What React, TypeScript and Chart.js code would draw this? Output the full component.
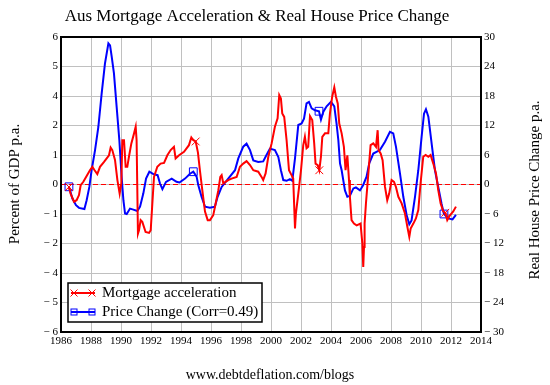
import React, { useEffect, useRef } from "react";
import { Chart, registerables } from "chart.js";

Chart.register(...registerables);

const TITLE = "Aus Mortgage Acceleration & Real House Price Change";
const CAPTION = "www.debtdeflation.com/blogs";
const LEFT_TITLE = "Percent of GDP p.a.";
const RIGHT_TITLE = "Real House Price Change p.a.";
const RED_LABEL = "Mortgage acceleration";
const BLUE_LABEL = "Price Change (Corr=0.49)";

const X_MIN = 1986;
const X_MAX = 2014;
const X_TICKS = [1986, 1988, 1990, 1992, 1994, 1996, 1998, 2000, 2002, 2004, 2006, 2008, 2010, 2012, 2014];
const LEFT_TICKS = [-6, -4.8, -3.6, -2.4, -1.2, 0, 1.2, 2.4, 3.6, 4.8, 6];
const LEFT_TICK_LABELS = ["\u2212 6", "\u2212 5", "\u2212 4", "\u2212 2", "\u2212 1", "0", "1", "2", "4", "5", "6"];
const RIGHT_TICKS = [-30, -24, -18, -12, -6, 0, 6, 12, 18, 24, 30];
const RIGHT_TICK_LABELS = ["\u2212 30", "\u2212 24", "\u2212 18", "\u2212 12", "\u2212 6", "0", "6", "12", "18", "24", "30"];

// Mortgage acceleration (left axis, % of GDP p.a.)
const RED_YEARS = [
  1986.53, 1986.64, 1986.87, 1987.04, 1987.2, 1987.31, 1987.49, 1987.71, 1987.93, 1988.09,
  1988.24, 1988.42, 1988.6, 1988.87, 1989.2, 1989.31, 1989.42, 1989.6, 1989.76, 1989.91,
  1990.02, 1990.09, 1990.2, 1990.31, 1990.42, 1990.53, 1990.69, 1990.87, 1990.98, 1991.04,
  1991.13, 1991.2, 1991.31, 1991.42, 1991.64, 1991.87, 1991.98, 1992.09, 1992.2, 1992.42,
  1992.64, 1992.87, 1993.09, 1993.31, 1993.53, 1993.64, 1993.87, 1994.2, 1994.53, 1994.69,
  1994.82, 1994.98, 1995.13, 1995.26, 1995.42, 1995.6, 1995.78, 1995.93, 1996.15, 1996.31,
  1996.49, 1996.62, 1996.71, 1996.82, 1996.97, 1997.15, 1997.37, 1997.71, 1997.93, 1998.15,
  1998.37, 1998.6, 1998.82, 1999.15, 1999.37, 1999.48, 1999.64, 1999.82, 2000.04, 2000.26,
  2000.44, 2000.55, 2000.66, 2000.75, 2000.88, 2001.04, 2001.2, 2001.37, 2001.48, 2001.6,
  2001.66, 2001.82, 2002.0, 2002.15, 2002.26, 2002.37, 2002.48, 2002.6, 2002.75, 2002.88,
  2002.97, 2003.11, 2003.22, 2003.33, 2003.42, 2003.6, 2003.82, 2003.93, 2004.08, 2004.22,
  2004.33, 2004.45, 2004.55, 2004.71, 2004.86, 2004.97, 2005.09, 2005.2, 2005.26, 2005.37,
  2005.53, 2005.71, 2005.97, 2006.09, 2006.15, 2006.2, 2006.24, 2006.33, 2006.49, 2006.64,
  2006.82, 2007.0, 2007.11, 2007.17, 2007.31, 2007.44, 2007.6, 2007.75, 2007.88, 2008.04,
  2008.2, 2008.33, 2008.49, 2008.71, 2008.93, 2009.09, 2009.22, 2009.31, 2009.49, 2009.66,
  2009.82, 2009.97, 2010.15, 2010.31, 2010.49, 2010.64, 2010.82, 2011.0, 2011.15, 2011.31,
  2011.49, 2011.62, 2011.75, 2011.93, 2012.15, 2012.33,
];
const RED_VALUES = [
  -0.1, -0.37, -0.7, -0.64, -0.43, -0.03, 0.11, 0.35, 0.58, 0.72,
  0.58, 0.42, 0.72, 0.92, 1.19, 1.5, 1.4, 1.0, 0.18, -0.37,
  0.04, 1.8, 1.8, 0.72, 0.72, 1.13, 1.67, 2.08, 2.35, 1.8,
  -2.0, -1.86, -1.45, -1.52, -1.93, -1.97, -1.86, -0.77, 0.31, 0.72,
  0.85, 0.88, 1.19, 1.4, 1.53, 1.06, 1.19, 1.33, 1.6, 1.91,
  1.8, 1.75, 1.3, 0.58, -0.23, -1.1, -1.45, -1.45, -1.25, -0.77,
  -0.23, 0.31, 0.38, 0.04, 0.11, 0.18, 0.24, 0.31, 0.72, 0.85,
  0.95, 0.79, 0.58, 0.52, 0.31, 0.18, 0.45, 1.13, 1.67, 2.35,
  2.69, 3.64, 3.5, 2.89, 2.75, 1.8, 0.58, 0.38, 0.24, -1.79,
  -1.18, -0.37, 0.58, 1.6, 1.94, 1.47, 1.53, 2.78, 2.62, 1.67,
  0.85, 0.79, 0.58, 1.13, 1.94, 2.08, 2.08, 2.89, 3.57, 3.95,
  3.57, 3.3, 2.48, 2.08, 1.53, 0.58, 1.19, 0.18, -0.5, -1.45,
  -1.59, -1.66, -1.59, -2.4, -3.35, -2.54, -1.59, -0.77, 0.45, 1.6,
  1.67, 1.53, 2.21, 1.4, 1.26, 0.99, -0.1, -0.64, -0.37, 0.18,
  0.11, -0.1, -0.5, -0.77, -1.18, -1.72, -2.13, -1.79, -1.59, -1.38,
  -1.04, 0.04, 1.13, 1.2, 1.13, 1.2, 0.85, 0.45, -0.23, -0.77,
  -1.1, -1.15, -1.45, -1.25, -1.1, -0.9,
];
const RED_MARKER_YEARS = [1986.53, 1994.98, 2003.22, 2011.62];

// Real house price change (right axis, % p.a.)
const BLUE_YEARS = [
  1986.53, 1986.76, 1987.0, 1987.2, 1987.56, 1987.71, 1987.89, 1988.04, 1988.27, 1988.49,
  1988.71, 1988.93, 1989.16, 1989.27, 1989.38, 1989.53, 1989.71, 1989.89, 1990.04, 1990.16,
  1990.27, 1990.38, 1990.6, 1990.82, 1991.09, 1991.27, 1991.49, 1991.67, 1991.89, 1992.16,
  1992.44, 1992.6, 1992.76, 1993.0, 1993.38, 1993.7, 1993.9, 1994.27, 1994.6, 1994.82,
  1995.04, 1995.15, 1995.37, 1995.6, 1995.93, 1996.26, 1996.44, 1996.71, 1997.15, 1997.6,
  1997.82, 1998.15, 1998.37, 1998.6, 1998.82, 1999.15, 1999.48, 1999.7, 1999.93, 2000.26,
  2000.49, 2000.66, 2000.82, 2001.04, 2001.26, 2001.42, 2001.6, 2001.82, 2002.04, 2002.2,
  2002.37, 2002.53, 2002.71, 2002.93, 2003.2, 2003.33, 2003.49, 2003.71, 2004.0, 2004.22,
  2004.37, 2004.49, 2004.6, 2004.71, 2004.93, 2005.09, 2005.26, 2005.49, 2005.66, 2005.93,
  2006.15, 2006.37, 2006.55, 2006.82, 2007.26, 2007.6, 2007.93, 2008.15, 2008.33, 2008.6,
  2008.82, 2009.04, 2009.22, 2009.37, 2009.6, 2009.82, 2010.04, 2010.2, 2010.33, 2010.49,
  2010.71, 2010.93, 2011.15, 2011.37, 2011.53, 2011.82, 2012.1, 2012.33,
];
const BLUE_VALUES = [
  -0.47, -2.85, -4.2, -4.75, -5.0, -3.2, -0.5, 2.9, 7.0, 11.7,
  18.5, 24.6, 28.7, 28.3, 26, 22.6, 15.8, 9.0, 1.6, -3.2,
  -5.9, -6.0, -4.9, -5.1, -5.4, -4.5, -1.8, 1.2, 2.6, 2.1,
  1.9, 0.2, -0.95, 0.54, 1.2, 0.54, 0.4, 1.2, 2.2, 2.6,
  1.6, -0.1, -2.5, -4.5, -4.7, -4.5, -2.5, -0.5, 1.2, 2.9,
  5.3, 7.7, 8.3, 7.0, 4.9, 4.6, 4.7, 6.0, 7.3, 7.0,
  5.6, 2.9, 0.9, 0.75, 1.1, 0.75, 5.3, 12.1, 12.4, 13.4,
  16.5, 16.8, 15.5, 15.1, 14.9, 13.2, 14.8, 15.9, 16.8, 15.9,
  12.4, 9.0, 4.3, 2.9, -1.2, -2.5, -2.3, -0.8, -0.6, -1.2,
  -0.1, 1.6, 4.3, 6.3, 7.0, 8.7, 10.7, 10.4, 7.7, 2.2,
  -2.5, -6.2, -8.1, -7.3, -2.5, 2.9, 9.7, 14.4, 15.3, 13.8,
  8.3, 2.9, -0.5, -3.9, -6.0, -6.9, -7.1, -6.2,
];
const BLUE_MARKER_YEARS = [1986.53, 1994.82, 2003.2, 2011.53];

const RED = "#ff0000";
const BLUE = "#0000ff";
const GRID = "#c0c0c0";
const SERIF = "'Liberation Serif', 'Times New Roman', serif";

function drawCross(ctx: CanvasRenderingContext2D, x: number, y: number, r: number, color: string) {
  ctx.save();
  ctx.strokeStyle = color;
  ctx.lineWidth = 1;
  ctx.beginPath();
  ctx.moveTo(x - r, y - r);
  ctx.lineTo(x + r, y + r);
  ctx.moveTo(x - r, y + r);
  ctx.lineTo(x + r, y - r);
  ctx.stroke();
  ctx.restore();
}

function drawSquare(ctx: CanvasRenderingContext2D, x: number, y: number, r: number, color: string) {
  ctx.save();
  ctx.strokeStyle = color;
  ctx.lineWidth = 1;
  ctx.strokeRect(x - r, y - r, 2 * r, 2 * r);
  ctx.restore();
}

const decorPlugin = {
  id: "decor",
  afterDraw(chart: any) {
    const ctx: CanvasRenderingContext2D = chart.ctx;
    const { left, right, top, bottom } = chart.chartArea;
    ctx.save();
    // plot frame
    ctx.strokeStyle = "#000";
    ctx.lineWidth = 2;
    ctx.strokeRect(left, top, right - left, bottom - top);

    ctx.fillStyle = "#000";
    ctx.textAlign = "center";
    ctx.textBaseline = "middle";
    ctx.font = `17px ${SERIF}`;
    ctx.fillText(TITLE, 257, 17);
    ctx.font = `14px ${SERIF}`;
    ctx.fillText(CAPTION, 270, 375);

    ctx.font = `15px ${SERIF}`;
    ctx.save();
    ctx.translate(15, 184);
    ctx.rotate(-Math.PI / 2);
    ctx.fillText(LEFT_TITLE, 0, 0);
    ctx.restore();
    ctx.save();
    ctx.translate(535, 190);
    ctx.rotate(-Math.PI / 2);
    ctx.fillText(RIGHT_TITLE, 0, 0);
    ctx.restore();

    // legend
    const lx = left + 7;
    const ly = bottom - 49;
    const lw = 194;
    const lh = 39;
    ctx.fillStyle = "#fff";
    ctx.fillRect(lx, ly, lw, lh);
    ctx.strokeStyle = "#000";
    ctx.lineWidth = 1.5;
    ctx.strokeRect(lx, ly, lw, lh);
    const rows = [
      { label: RED_LABEL, color: RED, kind: "cross", y: ly + 10 },
      { label: BLUE_LABEL, color: BLUE, kind: "square", y: ly + 29 },
    ];
    rows.forEach((row) => {
      ctx.strokeStyle = row.color;
      ctx.lineWidth = 2;
      ctx.beginPath();
      ctx.moveTo(lx + 3, row.y);
      ctx.lineTo(lx + 27, row.y);
      ctx.stroke();
      const xs = [lx + 6, lx + 24];
      xs.forEach((mx) => {
        if (row.kind === "cross") drawCross(ctx, mx, row.y, 3.5, row.color);
        else drawSquare(ctx, mx, row.y, 3, row.color);
      });
      ctx.fillStyle = "#000";
      ctx.textAlign = "left";
      ctx.textBaseline = "middle";
      ctx.font = `15px ${SERIF}`;
      ctx.fillText(row.label, lx + 34, row.y);
    });
    ctx.restore();
  },
};

const markerRadius = (years: number[]) => (c: any) => {
  const raw = c.raw;
  if (!raw) return 0;
  return years.some((m) => Math.abs(m - raw.x) < 0.001) ? 5.5 : 0;
};

export default function App() {
  const canvasRef = useRef<HTMLCanvasElement | null>(null);

  useEffect(() => {
    document.body.style.margin = "0";
    const canvas = canvasRef.current;
    if (!canvas) return;
    const tickFont = { family: SERIF, size: 11 };
    const chart = new Chart(canvas, {
      type: "line",
      data: {
        datasets: [
          {
            label: RED_LABEL,
            data: RED_YEARS.map((x, i) => ({ x, y: RED_VALUES[i] })),
            yAxisID: "y",
            borderColor: RED,
            backgroundColor: RED,
            borderWidth: 2,
            pointStyle: "crossRot",
            pointRadius: markerRadius(RED_MARKER_YEARS),
            pointBorderWidth: 1,
            pointBorderColor: RED,
            tension: 0,
            order: 1,
          },
          {
            label: BLUE_LABEL,
            data: BLUE_YEARS.map((x, i) => ({ x, y: BLUE_VALUES[i] })),
            yAxisID: "y1",
            borderColor: BLUE,
            backgroundColor: "rgba(0,0,0,0)",
            borderWidth: 2,
            pointStyle: "rect",
            pointRadius: markerRadius(BLUE_MARKER_YEARS),
            pointBorderWidth: 1,
            pointBorderColor: BLUE,
            tension: 0,
            order: 2,
          },
          {
            label: "zero",
            data: [
              { x: X_MIN, y: 0 },
              { x: X_MAX, y: 0 },
            ],
            yAxisID: "y",
            borderColor: RED,
            borderWidth: 1,
            borderDash: [5, 3],
            pointRadius: 0,
            order: 3,
          },
        ],
      },
      options: {
        animation: false,
        responsive: false,
        devicePixelRatio: 1,
        layout: { padding: { top: 37, left: 0, right: 0, bottom: 0 } },
        plugins: {
          legend: { display: false },
          title: { display: false },
          tooltip: { enabled: false },
        },
        scales: {
          x: {
            type: "linear",
            min: X_MIN,
            max: X_MAX,
            afterBuildTicks: (s: any) => {
              s.ticks = X_TICKS.map((v) => ({ value: v }));
            },
            afterFit: (s: any) => {
              s.height = 53;
            },
            ticks: {
              callback: (v: any) => String(v),
              font: tickFont,
              color: "#000",
              padding: 3,
              maxRotation: 0,
              autoSkip: false,
            },
            grid: { color: GRID, lineWidth: 1, drawTicks: false },
            border: { display: false },
          },
          y: {
            position: "left",
            min: -6,
            max: 6,
            afterBuildTicks: (s: any) => {
              s.ticks = LEFT_TICKS.map((v) => ({ value: v }));
            },
            afterFit: (s: any) => {
              s.width = 61;
            },
            ticks: {
              callback: (_v: any, i: number) => LEFT_TICK_LABELS[i],
              font: tickFont,
              color: "#000",
              padding: 3,
              autoSkip: false,
            },
            grid: { color: GRID, lineWidth: 1, drawTicks: false },
            border: { display: false },
          },
          y1: {
            position: "right",
            min: -30,
            max: 30,
            afterBuildTicks: (s: any) => {
              s.ticks = RIGHT_TICKS.map((v) => ({ value: v }));
            },
            afterFit: (s: any) => {
              s.width = 69;
            },
            ticks: {
              callback: (_v: any, i: number) => RIGHT_TICK_LABELS[i],
              font: tickFont,
              color: "#000",
              padding: 3,
              autoSkip: false,
            },
            grid: { drawOnChartArea: false, drawTicks: false },
            border: { display: false },
          },
        },
      },
      plugins: [decorPlugin],
    } as any);
    return () => chart.destroy();
  }, []);

  return (
    <div style={{ width: 550, height: 385, background: "#fff" }}>
      <canvas ref={canvasRef} width={550} height={385} style={{ display: "block" }} />
    </div>
  );
}
